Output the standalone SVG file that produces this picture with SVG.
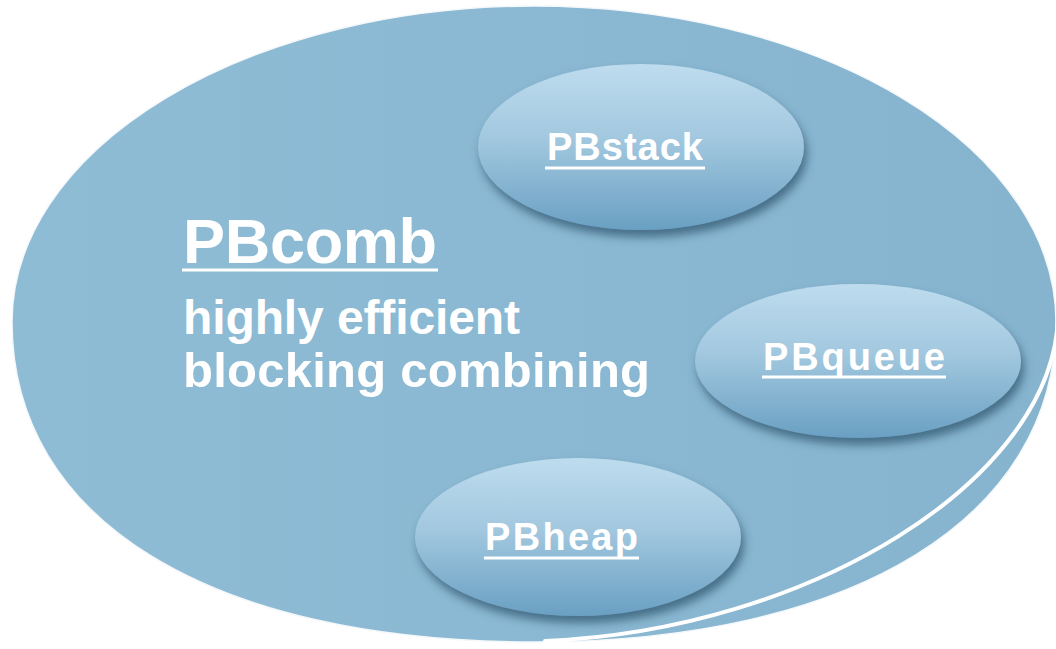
<svg xmlns="http://www.w3.org/2000/svg" width="1056" height="649" viewBox="0 0 1056 649">
  <style>
    .lbl { font-family: "Liberation Sans", Arial, sans-serif; font-weight: bold; fill: #ffffff; }
    .ul { stroke: #ffffff; stroke-width: 3; }
    .bubble { fill: url(#bubbleGrad); filter: url(#shadow); }
  </style>
  <defs>
    <linearGradient id="bgGrad" x1="0" y1="0" x2="1" y2="0">
      <stop offset="0" stop-color="#8fbcd5"/>
      <stop offset="1" stop-color="#86b4cf"/>
    </linearGradient>
    <linearGradient id="bubbleGrad" x1="0" y1="0" x2="0" y2="1">
      <stop offset="0" stop-color="#bedcee"/>
      <stop offset="0.45" stop-color="#a2c8df"/>
      <stop offset="1" stop-color="#6aa0c3"/>
    </linearGradient>
    <filter id="shadow" x="-20%" y="-20%" width="140%" height="150%">
      <feDropShadow dx="3" dy="7" stdDeviation="5" flood-color="#2b5068" flood-opacity="0.7"/>
    </filter>
  </defs>
  <rect width="1056" height="649" fill="#ffffff"/>

  <g id="pbcomb">
    <path d="M 12 322 A 522 316 0 0 1 1056 322 C 1056 515 858 642 534 642 C 210 642 12 520 12 322 Z" fill="url(#bgGrad)" stroke="#f4f8fb" stroke-width="1.5"/>
    <path d="M 1058 318 C 1052 480 810 630 545 641" fill="none" stroke="#ffffff" stroke-width="4" stroke-linecap="round"/>
    <text class="lbl" x="183" y="263" font-size="63" textLength="254">PBcomb</text>
    <line class="ul" x1="182" y1="270" x2="438" y2="270" stroke-width="3.5"/>
    <text class="lbl" x="183" y="334" font-size="48" textLength="337">highly efficient</text>
    <text class="lbl" x="183" y="387" font-size="49" textLength="467">blocking combining</text>
  </g>

  <g id="pbstack">
    <ellipse class="bubble" cx="641" cy="147" rx="163" ry="83"/>
    <text class="lbl" x="547" y="160" font-size="38" textLength="156">PBstack</text>
    <line class="ul" x1="545" y1="168" x2="705" y2="168"/>
  </g>

  <g id="pbqueue">
    <ellipse class="bubble" cx="858" cy="361" rx="163" ry="77"/>
    <text class="lbl" x="763" y="370" font-size="38" textLength="182">PBqueue</text>
    <line class="ul" x1="762" y1="377" x2="946" y2="377"/>
  </g>

  <g id="pbheap">
    <ellipse class="bubble" cx="578" cy="537" rx="163" ry="79"/>
    <text class="lbl" x="485" y="550" font-size="38" textLength="153">PBheap</text>
    <line class="ul" x1="484" y1="558" x2="639" y2="558"/>
  </g>

  <g id="connectors"/>
</svg>
